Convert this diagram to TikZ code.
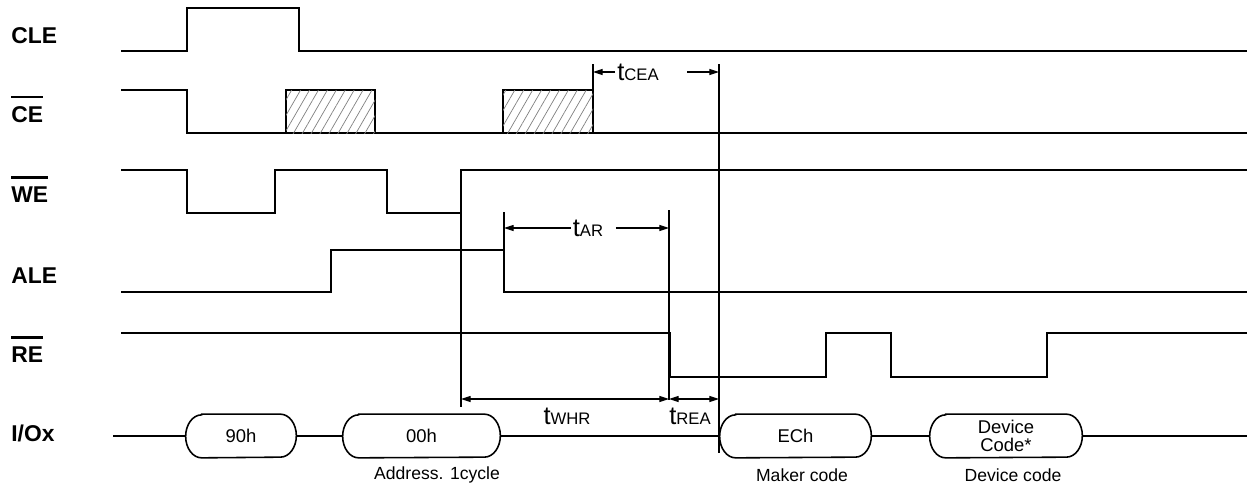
\documentclass[tikz,border=0pt]{standalone}
\usepackage{fontspec}
\setmainfont{Liberation Sans}
\usetikzlibrary{arrows.meta,patterns.meta,calc}
\newcommand\ovl[1]{\vbox{\hrule height 1.6pt\kern 4.4pt\hbox{#1}}}
\newcommand\tlab[1]{{\fontsize{14.5}{15}\selectfont t}{\fontsize{9.5}{10}\selectfont #1}}
\newcommand\mybub[4]{%
  \node[bubtxt, minimum width={(#3-#2)*0.02cm}, minimum height=0.86cm] (#1) at ({(#2+#3)/2},436) {#4};
  \draw[bubl] ($(#1.north west)+(16,0)$) -- ($(#1.north east)+(-16,0)$)
     arc[start angle=90,end angle=-90,x radius=0.32cm,y radius=0.43cm]
     -- ($(#1.south west)+(16,0)$)
     arc[start angle=270,end angle=90,x radius=0.32cm,y radius=0.43cm] -- cycle;}
\begin{document}
\begin{tikzpicture}[x=0.02cm,y=-0.02cm,
  sig/.style={line width=1.2pt},
  thinl/.style={line width=0.6pt},
  bubl/.style={line width=0.9pt},
  dim/.style={line width=0.6pt,-{Triangle[length=5.5pt,width=3.4pt]}},
  ddim/.style={line width=0.6pt,{Triangle[length=5.5pt,width=3.4pt]}-{Triangle[length=5.5pt,width=3.4pt]}},
  lab/.style={anchor=base west,font=\fontsize{13}{15}\selectfont\bfseries,inner sep=0},
  tl/.style={inner sep=1pt},
  bubtxt/.style={font=\fontsize{10.5}{10.5}\selectfont, align=center, inner sep=0},
  captxt/.style={font=\fontsize{10}{12}\selectfont, inner sep=0},
  hatch/.style={line width=1.2pt, fill=white, postaction={pattern={Lines[angle=60,distance=4.4pt,line width=0.4pt]}, pattern color=gray}}]
\useasboundingbox (0,0) rectangle (1249,487);

% labels
\node[lab] (lcle) at (11,43) {CLE};
\node[lab] (lce) at (11,122) {\ovl{CE}};
\node[lab] (lwe) at (11,202) {\ovl{WE}};
\node[lab] (lale) at (11,283) {ALE};
\node[lab] (lre) at (11,362) {\ovl{RE}};
\node[lab] (lio) at (11,441) {I/Ox};

% CLE
\draw[sig] (121,51) -- (187,51) -- (187,8) -- (299,8) -- (299,51) -- (1247,51);
% CE
\draw[sig] (121,90) -- (187,90) -- (187,133) -- (1247,133);
\draw[hatch] (286,90) rectangle (375,133);
\draw[hatch] (503,90) rectangle (593,133);
% WE
\draw[sig] (121,170) -- (187,170) -- (187,213) -- (275,213) -- (275,170) -- (387,170) -- (387,213) -- (461,213) -- (461,170) -- (1247,170);
% ALE
\draw[sig] (121,292) -- (331,292) -- (331,250) -- (504,250) -- (504,292) -- (1247,292);
% RE
\draw[sig] (121,333) -- (670,333) -- (670,377) -- (826,377) -- (826,333) -- (891,333) -- (891,377) -- (1047,377) -- (1047,333) -- (1247,333);

% vertical reference lines
\coordinate (vA1) at (461,170); \coordinate (vA2) at (461,407);
\coordinate (vB1) at (504,212); \coordinate (vB2) at (504,250);
\coordinate (vC1) at (669,210); \coordinate (vC2) at (669,400);
\coordinate (vD1) at (719,64);  \coordinate (vD2) at (719,453);
\coordinate (vE1) at (593,64);  \coordinate (vE2) at (593,90);
\draw[thinl] (vA1) -- (vA2);
\draw[thinl] (vB1) -- (vB2);
\draw[thinl] (vC1) -- (vC2);
\draw[thinl] (vD1) -- (vD2);
\draw[thinl] (vE1) -- (vE2);

% tCEA
\node[tl] (tcea) at (638,72) {\tlab{CEA}};
\coordinate (ceaR) at (687,72);
\draw[dim] (tcea.west) -- (vE1 |- tcea.west);
\draw[dim] (ceaR) -- (vD1 |- ceaR);
% tAR
\node[tl] (tar) at (588,228) {\tlab{AR}};
\draw[dim] (tar.west) -- (vB1 |- tar.west);
\draw[dim] ([xshift=6pt]tar.east) -- (vC1 |- tar.east);
% tWHR, tREA
\coordinate (whr) at (461,399);
\draw[ddim] (vA1 |- whr) -- (vC1 |- whr);
\draw[ddim] (vC1 |- whr) -- (vD1 |- whr);
\node[tl] (twhr) at (567,416) {\tlab{WHR}};
\node[tl] (trea) at (690,416) {\tlab{REA}};

% I/O bubbles
\mybub{b90}{186}{296}{90h}
\mybub{b00}{343}{500}{00h}
\mybub{bec}{720}{871}{ECh}
\mybub{bdc}{930}{1082}{Device\\Code*}
\coordinate (io0) at (113,436);
\coordinate (io1) at (1247,436);
\draw[sig] (io0) -- (b90.west);
\draw[sig] (b90.east) -- (b00.west);
\draw[sig] (b00.east) -- (bec.west);
\draw[sig] (bec.east) -- (bdc.west);
\draw[sig] (bdc.east) -- (io1);

% captions
\node[captxt] (c1) at (437,475) {Address. 1cycle};
\node[captxt] (c2) at (802,475) {Maker code};
\node[captxt] (c3) at (1013,475) {Device code};
\end{tikzpicture}
\end{document}
